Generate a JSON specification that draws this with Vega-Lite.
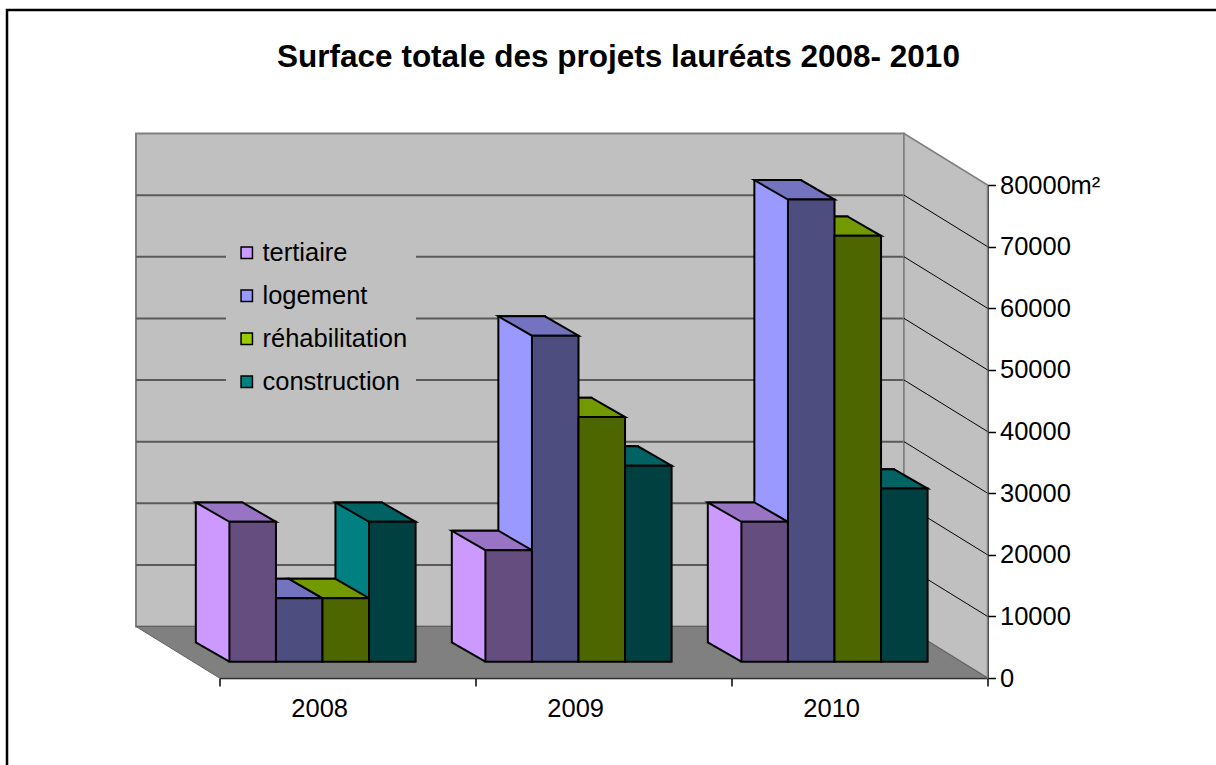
{
  "$schema": "https://vega.github.io/schema/vega-lite/v6.json",
  "width": 768,
  "height": 493,
  "autosize": {"type": "none"},
  "padding": {"left": 219.5, "top": 185, "right": 228.5, "bottom": 87},
  "background": "white",
  "title": {
    "text": "Surface totale des projets lauréats 2008- 2010",
    "font": "Liberation Sans",
    "fontSize": 31.5,
    "fontWeight": "bold",
    "color": "black",
    "anchor": "middle",
    "dx": 15,
    "offset": -68
  },
  "config": {"view": {"stroke": null}, "font": "Liberation Sans"},
  "datasets": {
    "bars": [
      {"annee": "2008", "type": "tertiaire", "surface": 22700},
      {"annee": "2008", "type": "logement", "surface": 10300},
      {"annee": "2008", "type": "réhabilitation", "surface": 10300},
      {"annee": "2008", "type": "construction", "surface": 22700},
      {"annee": "2009", "type": "tertiaire", "surface": 18100},
      {"annee": "2009", "type": "logement", "surface": 52900},
      {"annee": "2009", "type": "réhabilitation", "surface": 39700},
      {"annee": "2009", "type": "construction", "surface": 31800},
      {"annee": "2010", "type": "tertiaire", "surface": 22700},
      {"annee": "2010", "type": "logement", "surface": 75000},
      {"annee": "2010", "type": "réhabilitation", "surface": 69100},
      {"annee": "2010", "type": "construction", "surface": 28100}
    ],
    "ticks": [{"v": 10000}, {"v": 20000}, {"v": 30000}, {"v": 40000}, {"v": 50000}, {"v": 60000}, {"v": 70000}],
    "zero": [{"v": 0}]
  },
  "resolve": {"scale": {"fill": "independent", "xOffset": "independent"}},
  "layer": [
    {
      "data": {"name": "zero"},
      "mark": {"type": "point", "shape": "M -596.5 250 L -596.5 -668 L 750 -668", "size": 4, "filled": false, "stroke": "black", "strokeWidth": 2.5, "opacity": 1},
      "encoding": {
        "y": {"field": "v", "type": "quantitative"}
      }
    },
    {
      "data": {"name": "zero"},
      "mark": {"type": "point", "shape": "M -467.5 -544.5 L 300.5 -544.5 L 300.5 -51.5 L -467.5 -51.5 Z", "size": 4, "filled": true, "fill": "#C0C0C0", "stroke": "#808080", "strokeWidth": 2, "opacity": 1},
      "encoding": {
        "y": {"field": "v", "type": "quantitative"}
      }
    },
    {
      "data": {"name": "ticks"},
      "mark": {"type": "point", "shape": "M -467.5 -51.5 L 300.5 -51.5", "size": 4, "filled": false, "stroke": "#5A5A5A", "strokeWidth": 2, "opacity": 1},
      "encoding": {
        "y": {"field": "v", "type": "quantitative"}
      }
    },
    {
      "data": {"name": "zero"},
      "mark": {"type": "point", "shape": "M 300.5 -544.5 L 384 -493 L 384 0 L 300.5 -51.5 Z", "size": 4, "filled": true, "fill": "#C0C0C0", "stroke": "#808080", "strokeWidth": 1.5, "opacity": 1},
      "encoding": {
        "y": {"field": "v", "type": "quantitative"}
      }
    },
    {
      "data": {"name": "zero"},
      "mark": {"type": "point", "shape": "M -467.5 -51.5 L 300.5 -51.5 L 384 0 L -384 0 Z", "size": 4, "filled": true, "fill": "#808080", "stroke": "#606060", "strokeWidth": 1, "opacity": 1},
      "encoding": {
        "y": {"field": "v", "type": "quantitative"}
      }
    },
    {
      "data": {"name": "ticks"},
      "mark": {"type": "point", "shape": "M 300.5 -51.5 L 384 0", "size": 4, "filled": false, "stroke": "black", "strokeWidth": 1, "opacity": 1},
      "encoding": {
        "y": {"field": "v", "type": "quantitative"}
      }
    },
    {
      "data": {"name": "bars"},
      "mark": {"type": "bar", "stroke": "black", "strokeWidth": 2, "yOffset": -35.7, "opacity": 1},
      "encoding": {
        "x": {"field": "annee", "type": "nominal", "scale": {"paddingInner": 0, "paddingOuter": 0}},
        "xOffset": {"field": "type", "type": "nominal", "sort": ["tertiaire", "logement", "réhabilitation", "construction"], "scale": {"range": [-58.6, 197.4], "paddingInner": 0, "paddingOuter": 0.75}},
        "y": {"field": "surface", "type": "quantitative"},
        "color": {
          "field": "type",
          "type": "nominal",
          "scale": {"domain": ["tertiaire", "logement", "réhabilitation", "construction"], "range": ["#CC99FF", "#9999FF", "#99CC00", "#008080"]},
          "legend": {
            "orient": "none",
            "legendX": 6.5,
            "legendY": 47,
            "title": null,
            "fillColor": "#C0C0C0",
            "padding": 8,
            "symbolType": "square",
            "symbolSize": 130,
            "symbolStrokeColor": "black",
            "symbolStrokeWidth": 1.5,
            "symbolOpacity": 1,
            "labelFont": "Liberation Sans",
            "labelFontSize": 25.5,
            "labelColor": "black",
            "labelOffset": 3,
            "rowPadding": 16,
            "labelLimit": 400
          }
        }
      }
    },
    {
      "data": {"name": "bars"},
      "mark": {"type": "point", "shape": "M -80.6 -37 L -48.3 -37 L -48.3 -16.3 L -80.6 -34.95 Z", "size": 4, "filled": true, "strokeWidth": 0, "opacity": 1},
      "encoding": {
        "x": {"field": "annee", "type": "nominal"},
        "xOffset": {"field": "type", "type": "nominal", "sort": ["tertiaire", "logement", "réhabilitation", "construction"], "scale": {"type": "band", "paddingInner": 0, "paddingOuter": 0.75}},
        "y": {"datum": 0, "type": "quantitative"},
        "fill": {
          "field": "type",
          "type": "nominal",
          "scale": {"domain": ["tertiaire", "logement", "réhabilitation", "construction"], "range": ["#CC99FF", "#9999FF", "#99CC00", "#008080"]},
          "legend": null
        }
      }
    },
    {
      "data": {"name": "bars"},
      "mark": {"type": "point", "shape": "M -81.9 -35.7 L -48.3 -16.3", "size": 4, "filled": false, "stroke": "black", "strokeWidth": 2, "opacity": 1},
      "encoding": {
        "x": {"field": "annee", "type": "nominal"},
        "xOffset": {"field": "type", "type": "nominal", "sort": ["tertiaire", "logement", "réhabilitation", "construction"], "scale": {"type": "band", "paddingInner": 0, "paddingOuter": 0.75}},
        "y": {"datum": 0, "type": "quantitative"}
      }
    },
    {
      "data": {"name": "bars"},
      "mark": {"type": "point", "shape": "M -81.9 -35.7 L -35.3 -35.7 L -1.7 -16.3 L -48.3 -16.3 Z", "size": 4, "filled": true, "stroke": "black", "strokeWidth": 2, "opacity": 1},
      "encoding": {
        "x": {"field": "annee", "type": "nominal"},
        "xOffset": {"field": "type", "type": "nominal", "sort": ["tertiaire", "logement", "réhabilitation", "construction"], "scale": {"type": "band", "paddingInner": 0, "paddingOuter": 0.75}},
        "y": {"field": "surface", "type": "quantitative"},
        "fill": {
          "field": "type",
          "type": "nominal",
          "scale": {"domain": ["tertiaire", "logement", "réhabilitation", "construction"], "range": ["#9A74C4", "#7373C0", "#739900", "#006262"]},
          "legend": null
        }
      }
    },
    {
      "data": {"name": "bars"},
      "mark": {"type": "bar", "stroke": "black", "strokeWidth": 2, "yOffset": -16.3, "opacity": 1},
      "encoding": {
        "x": {
          "field": "annee",
          "type": "nominal",
          "axis": {
            "orient": "bottom",
            "title": null,
            "labelAngle": 0,
            "domainColor": "black",
            "domainWidth": 1.5,
            "tickColor": "black",
            "tickWidth": 1.5,
            "tickSize": 8,
            "tickBand": "extent",
            "labelFont": "Liberation Sans",
            "labelFontSize": 25.5,
            "labelColor": "black",
            "labelPadding": 22,
            "grid": false
          }
        },
        "xOffset": {"field": "type", "type": "nominal", "sort": ["tertiaire", "logement", "réhabilitation", "construction"], "scale": {"range": [-25, 231], "paddingInner": 0, "paddingOuter": 0.75}},
        "y": {
          "field": "surface",
          "type": "quantitative",
          "scale": {"domain": [0, 80000], "nice": false},
          "axis": {
            "orient": "right",
            "title": "m²",
            "titleAngle": 0,
            "titleX": 82.5,
            "titleY": 0,
            "titleAlign": "left",
            "titleBaseline": "middle",
            "titleFont": "Liberation Sans",
            "titleFontSize": 25.5,
            "titleFontWeight": "normal",
            "titleColor": "black",
            "values": [0, 10000, 20000, 30000, 40000, 50000, 60000, 70000, 80000],
            "format": "d",
            "labelFont": "Liberation Sans",
            "labelFontSize": 25.5,
            "labelColor": "black",
            "labelPadding": 4,
            "labelFlush": false,
            "labelOverlap": false,
            "tickSize": 8,
            "tickColor": "black",
            "tickWidth": 1.5,
            "domainColor": "black",
            "domainWidth": 1.5,
            "grid": false
          }
        },
        "fill": {
          "field": "type",
          "type": "nominal",
          "scale": {"domain": ["tertiaire", "logement", "réhabilitation", "construction"], "range": ["#664D80", "#4D4D80", "#4D6600", "#004040"]},
          "legend": null
        }
      }
    }
  ]
}
